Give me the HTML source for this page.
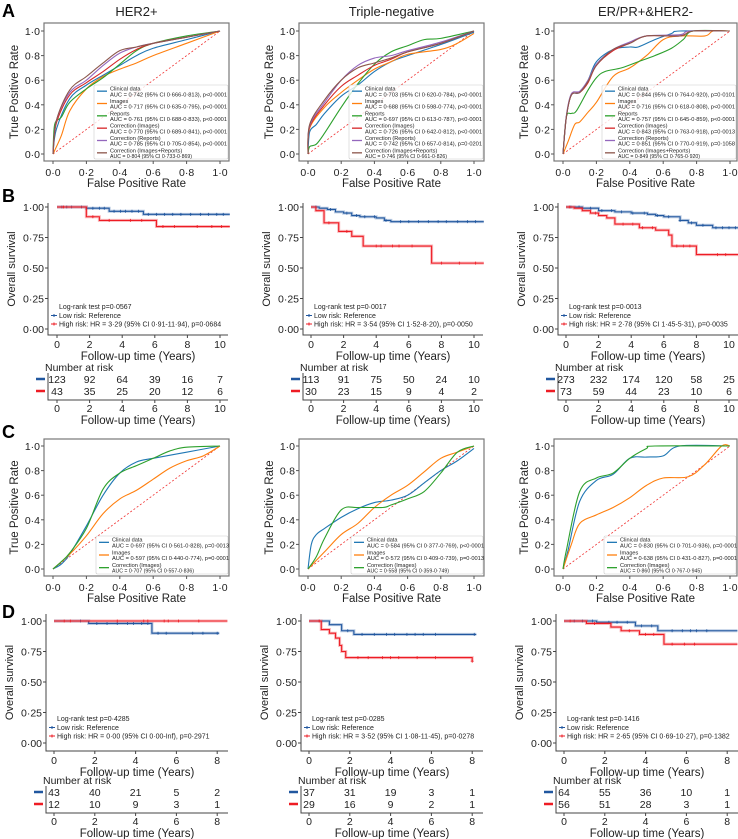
<!DOCTYPE html>
<html><head><meta charset="utf-8"><style>
html,body{margin:0;padding:0;background:#fff}
svg{display:block;font-family:"Liberation Sans",Arial,sans-serif}
</style></head><body>
<svg id="fig" width="738" height="839" viewBox="0 0 738 839" xmlns="http://www.w3.org/2000/svg">
<text x="2" y="17" font-size="18" font-weight="bold">A</text>
<text x="2" y="202" font-size="18" font-weight="bold">B</text>
<text x="2" y="438" font-size="18" font-weight="bold">C</text>
<text x="2" y="618" font-size="18" font-weight="bold">D</text>
</svg>
<script>
// ---------- ROC data (fpr, tpr) ----------
const a1Clinical=[[0,0],[0.02,0.2],[0.1,0.45],[0.2,0.56],[0.3,0.64],[0.4,0.72],[0.5,0.8],[0.6,0.86],[0.8,0.93],[1,1]];
const a1Images=[[0,0],[0.05,0.15],[0.1,0.35],[0.2,0.53],[0.3,0.63],[0.4,0.69],[0.5,0.74],[0.6,0.8],[0.8,0.9],[1,1]];
const a1Reports=[[0,0],[0.01,0.24],[0.05,0.3],[0.1,0.42],[0.2,0.53],[0.3,0.62],[0.4,0.73],[0.5,0.84],[0.6,0.9],[0.8,0.96],[1,1]];
const a1CorrImg=[[0,0],[0.02,0.25],[0.1,0.48],[0.2,0.58],[0.3,0.67],[0.4,0.77],[0.5,0.85],[0.6,0.9],[0.8,0.95],[1,1]];
const a1CorrRep=[[0,0],[0.02,0.27],[0.1,0.5],[0.2,0.6],[0.3,0.72],[0.4,0.82],[0.5,0.87],[0.6,0.9],[0.8,0.95],[1,1]];
const a1CorrBoth=[[0,0],[0.02,0.27],[0.1,0.52],[0.2,0.63],[0.3,0.74],[0.4,0.84],[0.5,0.87],[0.6,0.9],[0.8,0.95],[1,1]];
const a1Auc=["AUC = 0·742 (95% CI 0·666-0·813), p<0·0001","AUC = 0·717 (95% CI 0·635-0·795), p<0·0001","AUC = 0·761 (95% CI 0·688-0·833), p<0·0001","AUC = 0·770 (95% CI 0·689-0·841), p<0·0001","AUC = 0·785 (95% CI 0·705-0·854), p<0·0001","AUC = 0·804 (95% CI 0·733-0·869)"];

const a2Clinical=[[0,0],[0.01,0.18],[0.05,0.24],[0.1,0.33],[0.2,0.47],[0.3,0.56],[0.4,0.67],[0.5,0.75],[0.6,0.8],[0.8,0.89],[1,0.99]];
const a2Images=[[0,0],[0.01,0.21],[0.1,0.38],[0.2,0.5],[0.3,0.6],[0.4,0.69],[0.5,0.75],[0.6,0.81],[0.8,0.85],[0.9,0.9],[1,0.98]];
const a2Reports=[[0,0],[0.01,0.06],[0.05,0.08],[0.1,0.17],[0.2,0.38],[0.3,0.57],[0.4,0.73],[0.5,0.83],[0.6,0.88],[0.7,0.93],[0.8,0.94],[1,1]];
const a2CorrImg=[[0,0],[0.01,0.22],[0.1,0.4],[0.2,0.55],[0.3,0.64],[0.4,0.72],[0.5,0.77],[0.6,0.83],[0.8,0.9],[1,1]];
const a2CorrRep=[[0,0],[0.01,0.23],[0.1,0.42],[0.2,0.6],[0.3,0.72],[0.4,0.78],[0.5,0.8],[0.6,0.84],[0.8,0.91],[1,1]];
const a2CorrBoth=[[0,0],[0.01,0.24],[0.1,0.44],[0.2,0.6],[0.3,0.7],[0.4,0.74],[0.5,0.78],[0.6,0.83],[0.8,0.9],[1,1]];
const a2Auc=["AUC = 0·703 (95% CI 0·620-0·784), p<0·0001","AUC = 0·688 (95% CI 0·598-0·774), p<0·0001","AUC = 0·697 (95% CI 0·613-0·787), p<0·0001","AUC = 0·726 (95% CI 0·642-0·812), p<0·0001","AUC = 0·742 (95% CI 0·657-0·814), p=0·0201","AUC = 0·746 (95% CI 0·661-0·826)"];

const a3Clinical=[[0,0],[0.02,0.3],[0.05,0.48],[0.1,0.5],[0.15,0.6],[0.2,0.75],[0.3,0.85],[0.4,0.87],[0.45,0.87],[0.55,0.93],[0.65,0.98],[0.7,1],[1,1]];
const a3Images=[[0,0],[0.03,0.1],[0.07,0.24],[0.1,0.26],[0.15,0.34],[0.2,0.42],[0.3,0.63],[0.4,0.7],[0.5,0.8],[0.6,0.93],[0.7,0.96],[0.85,0.96],[0.9,1],[1,1]];
const a3Reports=[[0,0],[0.02,0.3],[0.05,0.33],[0.08,0.35],[0.15,0.52],[0.2,0.62],[0.25,0.67],[0.35,0.7],[0.45,0.75],[0.55,0.8],[0.65,0.86],[0.72,0.93],[0.78,1],[1,1]];
const a3CorrImg=[[0,0],[0.02,0.3],[0.05,0.48],[0.1,0.5],[0.15,0.58],[0.2,0.72],[0.3,0.84],[0.4,0.9],[0.5,0.96],[0.7,0.96],[0.78,1],[1,1]];
const a3CorrRep=[[0,0],[0.02,0.31],[0.05,0.49],[0.1,0.51],[0.15,0.6],[0.2,0.73],[0.3,0.85],[0.4,0.91],[0.5,0.96],[0.7,0.97],[0.76,1],[1,1]];
const a3CorrBoth=[[0,0],[0.02,0.3],[0.05,0.48],[0.1,0.5],[0.15,0.59],[0.2,0.72],[0.3,0.85],[0.4,0.9],[0.5,0.96],[0.7,0.96],[0.78,1],[1,1]];
const a3Auc=["AUC = 0·844 (95% CI 0·764-0·920), p=0·0101","AUC = 0·716 (95% CI 0·618-0·808), p<0·0001","AUC = 0·757 (95% CI 0·645-0·859), p<0·0001","AUC = 0·843 (95% CI 0·763-0·918), p=0·0013","AUC = 0·851 (95% CI 0·770-0·919), p=0·1058","AUC = 0·849 (95% CI 0·765-0·920)"];

const c1Clinical=[[0,0],[0.05,0.04],[0.1,0.12],[0.2,0.35],[0.3,0.6],[0.4,0.78],[0.5,0.87],[0.6,0.9],[0.8,0.95],[1,1]];
const c1Images=[[0,0],[0.1,0.12],[0.2,0.27],[0.3,0.45],[0.4,0.57],[0.5,0.64],[0.6,0.73],[0.7,0.82],[0.8,0.88],[0.9,0.92],[1,1]];
const c1Corr=[[0,0],[0.05,0.06],[0.1,0.13],[0.2,0.33],[0.3,0.65],[0.4,0.78],[0.5,0.84],[0.6,0.9],[0.7,0.96],[0.8,0.99],[1,1]];
const c1Auc=["AUC = 0·697 (95% CI 0·561-0·828), p=0·0013","AUC = 0·597 (95% CI 0·440-0·774), p=0·0001","AUC = 0·707 (95% CI 0·557-0·836)"];
const c2Clinical=[[0,0],[0.02,0.2],[0.05,0.28],[0.1,0.33],[0.2,0.42],[0.3,0.49],[0.4,0.54],[0.5,0.56],[0.6,0.6],[0.7,0.7],[0.8,0.8],[0.9,0.88],[1,0.98]];
const c2Images=[[0,0],[0.1,0.14],[0.2,0.28],[0.3,0.37],[0.4,0.5],[0.5,0.6],[0.6,0.68],[0.7,0.79],[0.8,0.9],[0.9,0.95],[1,1]];
const c2Corr=[[0,0],[0.05,0.1],[0.1,0.25],[0.2,0.48],[0.3,0.5],[0.45,0.5],[0.5,0.52],[0.6,0.57],[0.7,0.63],[0.8,0.78],[0.9,0.95],[1,1]];
const c2Auc=["AUC = 0·584 (95% CI 0·377-0·769), p<0·0001","AUC = 0·572 (95% CI 0·409-0·739), p=0·0013","AUC = 0·558 (95% CI 0·359-0·749)"];
const c3Clinical=[[0,0],[0.03,0.15],[0.1,0.55],[0.2,0.72],[0.3,0.77],[0.4,0.9],[0.5,0.91],[0.6,0.92],[0.7,1],[1,1]];
const c3Images=[[0,0],[0.05,0.2],[0.1,0.37],[0.2,0.44],[0.3,0.5],[0.4,0.58],[0.5,0.68],[0.6,0.74],[0.75,0.75],[0.85,0.85],[0.95,1],[1,1]];
const c3Corr=[[0,0],[0.02,0.15],[0.1,0.63],[0.2,0.74],[0.3,0.78],[0.4,0.9],[0.5,0.98],[0.55,1],[1,1]];
const c3Auc=["AUC = 0·830 (95% CI 0·701-0·936), p=0·0001","AUC = 0·638 (95% CI 0·431-0·827), p=0·0001","AUC = 0·860 (95% CI 0·767-0·945)"];

const rocLabels6=["Clinical data","Images","Reports","Correction (Images)","Correction (Reports)","Correction (Images+Reports)"];
const rocLabels3=["Clinical data","Images","Correction (Images)"];
const rocTicks=[0,0.2,0.4,0.6,0.8,1.0];
const rocTickLabels=["0·0","0·2","0·4","0·6","0·8","1·0"];

// ---------- KM data ----------
const b1LowT=[0,1.8,3.2,5.3,10.6], b1LowS=[1,0.99,0.965,0.94,0.94], b1LowC=[0.3,0.6,0.9,1.5,2.2,2.6,2.9,3.5,3.9,4.2,4.6,5.0,5.6,6.1,6.6,7.1,7.6,8.2,8.8,9.3,9.8,10.2];
const b1HighT=[0,1.8,2.6,6.1,10.6], b1HighS=[1,0.92,0.89,0.84,0.84], b1HighC=[0.4,2.2,3.2,4.5,5.2,6.5,7.2,8.6,9.5,10.1];
const b2LowT=[0,0.5,1,1.5,2,2.5,3,4,4.5,4.9,10.6], b2LowS=[1,0.99,0.98,0.96,0.95,0.93,0.92,0.91,0.89,0.88,0.88], b2LowC=[0.3,1.2,2.2,2.8,3.3,3.9,4.6,5.5,6.0,6.6,7.2,7.8,8.3,9.0,9.6,10.1];
const b2HighT=[0,0.3,0.8,1.7,2.5,3.2,7.4,10.6], b2HighS=[1,0.97,0.87,0.8,0.76,0.68,0.54,0.54], b2HighC=[1.1,2.2,4.0,4.3,5.0,5.4,6.2,8.0,9.1,10.1];
const b3LowT=[0,1,2,3,4,5,5.5,6,7,7.5,8,9,10.6], b3LowS=[1,0.99,0.97,0.96,0.95,0.94,0.93,0.92,0.89,0.87,0.85,0.83,0.83], b3LowC=[0.3,0.8,1.5,2.2,2.8,3.4,4.1,4.8,5.6,6.3,7.0,7.7,8.4,9.2,9.6,10.0,10.4];
const b3HighT=[0,0.5,1,1.5,2,2.5,3,4.5,5.5,6.3,6.5,8,10.6], b3HighS=[1,0.99,0.97,0.95,0.93,0.91,0.86,0.83,0.81,0.77,0.68,0.61,0.61], b3HighC=[0.2,1.8,3.5,4.1,4.7,5.3,6.8,7.2,7.6,9.3,9.8];
const d1LowT=[0,1.7,4.8,8.1], d1LowS=[1,0.98,0.9,0.9], d1LowC=[1.3,2.1,2.6,3.1,3.6,3.9,4.3,4.6,5.1,5.5,6.8,7.3,8.0];
const d1HighT=[0,8.5], d1HighS=[1,1], d1HighC=[0.5,0.8,3.1,4.4,4.6,5.4,5.6,6.1,7.1];
const d2LowT=[0,1.0,1.6,2.2,8.2], d2LowS=[1,0.97,0.92,0.89,0.89], d2LowC=[0.5,1.9,2.6,3.2,3.8,4.2,4.8,5.2,5.6,6.2,8.1];
const d2HighT=[0,0.6,1,1.3,1.5,1.6,1.8,8.0], d2HighS=[1,0.93,0.9,0.86,0.8,0.75,0.7,0.67], d2HighC=[0.5,2.4,2.9,3.6,4.0,4.4,5.3,6.2,8.0];
const d3LowT=[0,1.6,3.5,4.6,8.5], d3LowS=[1,0.99,0.96,0.92,0.92], d3LowC=[0.5,0.9,1.4,2.2,2.6,3.1,3.8,4.3,5.3,5.8,6.2,6.5,7.0];
const d3HighT=[0,1.1,2.3,2.8,3.7,4.9,8.5], d3HighS=[1,0.98,0.95,0.92,0.89,0.81,0.81], d3HighC=[0.3,1.5,3.2,4.0,4.4,5.3,5.9,6.4];
const kmYTicks=[0,0.25,0.5,0.75,1];
const kmYTickLabels=["0·00","0·25","0·50","0·75","1·00"];
const bTicks=[0,2,4,6,8,10], dTicks=[0,2,4,6,8];
const b1RiskLow=[123,92,64,39,16,7], b1RiskHigh=[43,35,25,20,12,6];
const b2RiskLow=[113,91,75,50,24,10], b2RiskHigh=[30,23,15,9,4,2];
const b3RiskLow=[273,232,174,120,58,25], b3RiskHigh=[73,59,44,23,10,6];
const d1RiskLow=[43,40,21,5,2], d1RiskHigh=[12,10,9,3,1];
const d2RiskLow=[37,31,19,3,1], d2RiskHigh=[29,16,9,2,1];
const d3RiskLow=[64,55,36,10,1], d3RiskHigh=[56,51,28,3,1];

const NS="http://www.w3.org/2000/svg";
const svg=document.getElementById('fig');
const COLORS=['#1f77b4','#ff7f0e','#2ca02c','#d62728','#9467bd','#8c564b'];
const BLUE='#21579f', RED='#ee1c24';
function mk(tag,attrs,parent){const e=document.createElementNS(NS,tag);for(const k in attrs)e.setAttribute(k,attrs[k]);(parent||svg).appendChild(e);return e;}
function tx(g,x,y,s,size,anchor,name,extra){const e=mk('text',Object.assign({x:x,y:y,'font-size':size,'text-anchor':anchor||'start',fill:'#222'},extra||{}),g);e.textContent=s;


return e;}
function smooth(pts){let d='M'+pts[0][0].toFixed(2)+','+pts[0][1].toFixed(2);
for(let i=0;i<pts.length-1;i++){const p0=pts[Math.max(0,i-1)],p1=pts[i],p2=pts[i+1],p3=pts[Math.min(pts.length-1,i+2)];
const c1=[p1[0]+(p2[0]-p0[0])/6,p1[1]+(p2[1]-p0[1])/6],c2=[p2[0]-(p3[0]-p1[0])/6,p2[1]-(p3[1]-p1[1])/6];
d+='C'+c1.map(v=>v.toFixed(2))+' '+c2.map(v=>v.toFixed(2))+' '+p2.map(v=>v.toFixed(2));}return d;}

function drawROC(p){
 const g=mk('g',{});
 
 
 const sx=v=>p.x0+v*(p.x1-p.x0), sy=v=>p.y0-v*(p.y0-p.y1);
 const fr=mk('rect',{x:p.bl,y:p.bt,width:p.br-p.bl,height:p.bb-p.bt,fill:'none',stroke:'#777',"stroke-width":1.2},g);
 
 
 rocTicks.forEach((v,i)=>{
  const t1=mk('line',{x1:sx(v),x2:sx(v),y1:p.bb,y2:p.bb+3,stroke:'#555'},g);
  
  
  tx(g,sx(v),p.bb+15,rocTickLabels[i],10.5,'middle','x-tick-label');
  const t2=mk('line',{x1:p.bl-3,x2:p.bl,y1:sy(v),y2:sy(v),stroke:'#555'},g);
  
  
  tx(g,p.bl-4,sy(v)+4,rocTickLabels[i],10.5,'end','y-tick-label');
 });
 const dg=mk('line',{x1:sx(0),y1:sy(0),x2:sx(1),y2:sy(1),stroke:'#f03030','stroke-width':0.8,'stroke-dasharray':'2,2'},g);
 
 
 p.curves.forEach((c,i)=>{
  const pa=mk('path',{d:smooth(c.map(q=>[sx(q[0]),sy(q[1])])),fill:'none',stroke:p.colors[i],'stroke-width':1.1},g);
  
  
 });
 const n=p.labels.length, lh=(p.lb-p.lt)/n;
 const lg=mk('rect',{x:p.ll,y:p.lt,width:p.br-1-p.ll,height:p.lb-p.lt,fill:'#fff','fill-opacity':0.8,stroke:'#ccc','stroke-width':0.6,rx:1.5},g);
 
 
 p.labels.forEach((l,i)=>{
  const y=p.lt+i*lh;
  const ln=mk('line',{x1:p.ll+3,x2:p.ll+13,y1:y+lh/2,y2:y+lh/2,stroke:p.colors[i],'stroke-width':1.3},g);
  
  
  tx(g,p.ll+16,y+5.6,l,5.6,'start','legend-label');
  tx(g,p.ll+16,y+11.4,p.aucs[i],5.6,'start','legend-auc',{textLength:p.aucs[i].length>36?117:82,lengthAdjust:'spacingAndGlyphs'});
 });
 if(p.title)tx(g,(p.bl+p.br)/2,16,p.title,13,'middle','panel-title');
 tx(g,(p.bl+p.br)/2,p.bb+26,'False Positive Rate',11.5,'middle','x-axis-title');
 tx(g,0,0,'True Positive Rate',11.5,'middle','y-axis-title',{transform:'translate('+(p.bl-26)+','+((p.bt+p.bb)/2)+') rotate(-90)'});
}

function stepPath(T,S,sx,sy){let d='M'+sx(T[0])+','+sy(S[0]);for(let i=1;i<T.length;i++){d+='H'+sx(T[i])+'V'+sy(S[i]);}return d;}
function survAt(T,S,t){let s=S[0];for(let i=0;i<T.length;i++){if(T[i]<=t)s=S[i];}return s;}

function drawKM(p){
 const g=mk('g',{});
 
 
 const sx=v=>p.zx+v*p.py, sy=v=>p.y0-v*(p.y0-p.y1);
 const ax=mk('path',{d:'M'+p.al+','+p.at+'V'+p.ab+'H'+p.ar,fill:'none',stroke:'#444','stroke-width':1},g);
 
 
 kmYTicks.forEach((v,i)=>{
  const t=mk('line',{x1:p.al-3,x2:p.al,y1:sy(v),y2:sy(v),stroke:'#444'},g);
  
  
  tx(g,p.al-4,sy(v)+4,kmYTickLabels[i],10.5,'end','y-tick-label');
 });
 p.ticks.forEach(v=>{
  const t=mk('line',{x1:sx(v),x2:sx(v),y1:p.ab,y2:p.ab+3,stroke:'#444'},g);
  
  
  tx(g,sx(v),p.ab+13,String(v),10.5,'middle','x-tick-label');
 });
 tx(g,(p.al+p.ar)/2,p.ab+25,'Follow-up time (Years)',11.5,'middle','x-axis-title');
 tx(g,0,0,'Overall survival',11,'middle','y-axis-title',{transform:'translate('+(p.al-33)+','+((p.at+p.ab)/2)+') rotate(-90)'});
 [[p.low,BLUE,'low-risk'],[p.high,RED,'high-risk']].forEach(([s,col,nm])=>{
  const d=stepPath(s.T,s.S,sx,sy);
  const band=mk('path',{d:d,fill:'none',stroke:col,'stroke-width':3,'stroke-opacity':0.3},g);
  
  
  const ln=mk('path',{d:d,fill:'none',stroke:col,'stroke-width':1.1},g);
  
  
  s.C.forEach(t=>{
   const x=sx(t),y=sy(survAt(s.T,s.S,t));
   const c=mk('path',{d:'M'+(x-1.5)+','+y+'H'+(x+1.5)+'M'+x+','+(y-1.5)+'V'+(y+1.5),stroke:col,'stroke-width':0.8},g);
   
   
  });
 });
 tx(g,p.al+11,p.ly,'Log-rank test '+p.logrank,7,'start','log-rank-text');
 [[BLUE,'Low risk: Reference'],[RED,p.hr]].forEach(([col,s],i)=>{
  const y=p.ly+9+i*8.5;
  const m=mk('path',{d:'M'+(p.al+3)+','+(y-2.5)+'H'+(p.al+9)+'M'+(p.al+6)+','+(y-4)+'V'+(y-1)},g);
  m.setAttribute('stroke',col);
  
  
  tx(g,p.al+11,y,s,7,'start','legend-label');
 });
 const r=p.rt;
 tx(g,p.al-3,r+4,'Number at risk',10.5,'start','risk-table-title');
 const tax=mk('path',{d:'M'+p.al+','+(r+6)+'V'+(r+33)+'H'+p.ar,fill:'none',stroke:'#444'},g);
 
 
 [[p.rLow,BLUE,r+16],[p.rHigh,RED,r+28]].forEach(([arr,col,y])=>{
  const dsh=mk('line',{x1:p.al-12,x2:p.al-3,y1:y-4,y2:y-4,stroke:col,'stroke-width':2.5},g);
  
  
  arr.forEach((v,i)=>tx(g,sx(p.ticks[i]),y,String(v),10.5,'middle','risk-count'));
 });
 p.ticks.forEach(v=>{
  const t=mk('line',{x1:sx(v),x2:sx(v),y1:r+33,y2:r+36,stroke:'#444'},g);
  
  
  tx(g,sx(v),r+45,String(v),10.5,'middle','risk-x-tick-label');
 });
 tx(g,(p.al+p.ar)/2,r+57,'Follow-up time (Years)',11.5,'middle','risk-x-axis-title');
}

const colX=[0,255,510];
const titles=["HER2+","Triple-negative","ER/PR+&HER2-"];
const aCurves=[[a1Clinical,a1Images,a1Reports,a1CorrImg,a1CorrRep,a1CorrBoth],[a2Clinical,a2Images,a2Reports,a2CorrImg,a2CorrRep,a2CorrBoth],[a3Clinical,a3Images,a3Reports,a3CorrImg,a3CorrRep,a3CorrBoth]];
const aAucs=[a1Auc,a2Auc,a3Auc];
const cCurves=[[c1Clinical,c1Images,c1Corr],[c2Clinical,c2Images,c2Corr],[c3Clinical,c3Images,c3Corr]];
const cAucs=[c1Auc,c2Auc,c3Auc];
for(let k=0;k<3;k++){
 const o=colX[k];
 const br=Math.min(229+o,737);
 drawROC({name:'roc-panel-a'+(k+1),title:titles[k],x0:53+o,x1:220+o-(k==1?1:0),y0:154,y1:31,bl:44+o,br:br,bt:23,bb:161,ll:br-135,lt:85,lb:159,curves:aCurves[k],labels:rocLabels6,aucs:aAucs[k],colors:COLORS});
 drawROC({name:'roc-panel-c'+(k+1),title:null,x0:53+o,x1:220+o-(k==1?1:0),y0:569,y1:446,bl:44+o,br:br,bt:439,bb:576,ll:br-133,lt:536,lb:574,curves:cCurves[k],labels:rocLabels3,aucs:cAucs[k],colors:[COLORS[0],COLORS[1],COLORS[2]]});
}
const bSets=[
 {low:{T:b1LowT,S:b1LowS,C:b1LowC},high:{T:b1HighT,S:b1HighS,C:b1HighC},rLow:b1RiskLow,rHigh:b1RiskHigh,logrank:'p=0·0567',hr:'High risk: HR = 3·29 (95% CI 0·91-11·94), p=0·0684'},
 {low:{T:b2LowT,S:b2LowS,C:b2LowC},high:{T:b2HighT,S:b2HighS,C:b2HighC},rLow:b2RiskLow,rHigh:b2RiskHigh,logrank:'p=0·0017',hr:'High risk: HR = 3·54 (95% CI 1·52-8·20), p=0·0050'},
 {low:{T:b3LowT,S:b3LowS,C:b3LowC},high:{T:b3HighT,S:b3HighS,C:b3HighC},rLow:b3RiskLow,rHigh:b3RiskHigh,logrank:'p=0·0013',hr:'High risk: HR = 2·78 (95% CI 1·45-5·31), p=0·0035'}];
const dSets=[
 {low:{T:d1LowT,S:d1LowS,C:d1LowC},high:{T:d1HighT,S:d1HighS,C:d1HighC},rLow:d1RiskLow,rHigh:d1RiskHigh,logrank:'p=0·4285',hr:'High risk: HR = 0·00 (95% CI 0·00-Inf), p=0·2971'},
 {low:{T:d2LowT,S:d2LowS,C:d2LowC},high:{T:d2HighT,S:d2HighS,C:d2HighC},rLow:d2RiskLow,rHigh:d2RiskHigh,logrank:'p=0·0285',hr:'High risk: HR = 3·52 (95% CI 1·08-11·45), p=0·0278'},
 {low:{T:d3LowT,S:d3LowS,C:d3LowC},high:{T:d3HighT,S:d3HighS,C:d3HighC},rLow:d3RiskLow,rHigh:d3RiskHigh,logrank:'p=0·1416',hr:'High risk: HR = 2·65 (95% CI 0·69-10·27), p=0·1382'}];
for(let k=0;k<3;k++){
 const o=colX[k];
 drawKM(Object.assign({name:'km-panel-b'+(k+1),al:48+o,zx:57+o-(k?1:0),py:16.3,ar:Math.min(228+o,738),at:203,ab:335,y0:329,y1:207,ticks:bTicks,ly:309,rt:367},bSets[k]));
 drawKM(Object.assign({name:'km-panel-d'+(k+1),al:46+o,zx:54+o,py:20.4,ar:Math.min(228+o,738),at:614,ab:751,y0:743,y1:621,ticks:dTicks,ly:721,rt:780},dSets[k]));
}
</script>
</body></html>
